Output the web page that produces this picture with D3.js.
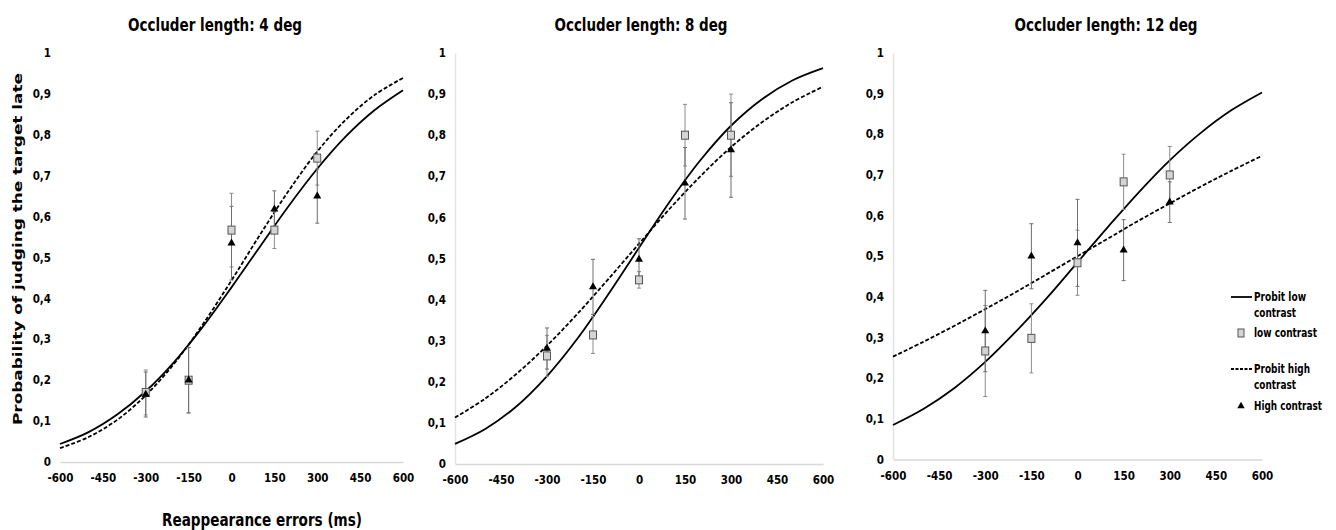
<!DOCTYPE html>
<html>
<head>
<meta charset="utf-8">
<script src="https://cdn.jsdelivr.net/npm/d3@7"></script>
<style>
  html, body { margin: 0; padding: 0; background: #fff; }
  svg { display: block; }
  .tick text { font-family: "DejaVu Sans Condensed", "DejaVu Sans", sans-serif; font-weight: bold; font-size: 11.5px; fill: #000; }
</style>
</head>
<body>
<svg id="chart" width="1336" height="530"></svg>
<script>
// ---------- data ----------
const xTicks = [-600, -450, -300, -150, 0, 150, 300, 450, 600];
const xTickLabels = ["-600", "-450", "-300", "-150", "0", "150", "300", "450", "600"];
const yTicks = [0, 0.1, 0.2, 0.3, 0.4, 0.5, 0.6, 0.7, 0.8, 0.9, 1];
const yTickLabels = ["0", "0,1", "0,2", "0,3", "0,4", "0,5", "0,6", "0,7", "0,8", "0,9", "1"];
const panelTitles = ["Occluder length: 4 deg", "Occluder length: 8 deg", "Occluder length: 12 deg"];
const curveX = [-600, -500, -400, -300, -200, -100, 0, 100, 200, 300, 400, 500, 600];
const pointX = [-300, -150, 0, 150, 300];

// 4 deg
const fitLow4  = [0.044, 0.073, 0.116, 0.173, 0.245, 0.331, 0.427, 0.527, 0.626, 0.717, 0.796, 0.860, 0.909];
const fitHigh4 = [0.034, 0.061, 0.103, 0.163, 0.241, 0.337, 0.444, 0.556, 0.663, 0.759, 0.837, 0.897, 0.939];
const low4     = [0.170, 0.200, 0.567, 0.567, 0.743];
const low4Err  = [0.055, 0.080, 0.090, 0.045, 0.066];
const high4    = [0.165, 0.200, 0.535, 0.618, 0.650];
const high4Err = [0.055, 0.080, 0.090, 0.045, 0.066];

// 8 deg
const fitLow8  = [0.049, 0.086, 0.140, 0.214, 0.306, 0.413, 0.526, 0.638, 0.739, 0.823, 0.887, 0.933, 0.963];
const fitHigh8 = [0.113, 0.160, 0.219, 0.288, 0.366, 0.450, 0.536, 0.621, 0.700, 0.771, 0.831, 0.880, 0.918];
const low8     = [0.263, 0.314, 0.448, 0.800, 0.800];
const low8Err  = [0.050, 0.045, 0.020, 0.075, 0.100];
const high8    = [0.281, 0.431, 0.498, 0.683, 0.764];
const high8Err = [0.050, 0.067, 0.050, 0.087, 0.115];

// 12 deg
const fitLow12  = [0.085, 0.125, 0.176, 0.240, 0.315, 0.397, 0.485, 0.573, 0.658, 0.736, 0.803, 0.859, 0.903];
const fitHigh12 = [0.253, 0.290, 0.329, 0.370, 0.412, 0.456, 0.500, 0.544, 0.588, 0.630, 0.671, 0.710, 0.747];
const low12     = [0.267, 0.298, 0.484, 0.683, 0.700];
const low12Err  = [0.112, 0.085, 0.080, 0.068, 0.070];
const high12    = [0.316, 0.500, 0.533, 0.515, 0.633];
const high12Err = [0.100, 0.080, 0.107, 0.075, 0.050];

const legendLabels = [["Probit low", "contrast"], ["low contrast"], ["Probit high", "contrast"], ["High contrast"]];
const legendWidths = [[52, 42], [63], [56, 42], [68]];

// ---------- layout ----------
const panels = [
  { x0: 60,  x1: 403,  y0: 462,   y1: 53, yLine: false, titleX: 215,  titleW: 174,
    fitLow: fitLow4, fitHigh: fitHigh4, low: low4, lowErr: low4Err, high: high4, highErr: high4Err },
  { x0: 455, x1: 823,  y0: 464,   y1: 53, yLine: true,  titleX: 641,  titleW: 173,
    fitLow: fitLow8, fitHigh: fitHigh8, low: low8, lowErr: low8Err, high: high8, highErr: high8Err },
  { x0: 893, x1: 1262, y0: 459.5, y1: 53, yLine: true,  titleX: 1106, titleW: 183,
    fitLow: fitLow12, fitHigh: fitHigh12, low: low12, lowErr: low12Err, high: high12, highErr: high12Err }
];

const svg = d3.select("#chart");
const condensed = '"DejaVu Sans Condensed", "DejaVu Sans", sans-serif';

panels.forEach((p, i) => {
  const x = d3.scaleLinear().domain([-600, 600]).range([p.x0, p.x1]);
  const y = d3.scaleLinear().domain([0, 1]).range([p.y0, p.y1]);
  const g = svg.append("g");

  // title
  g.append("text")
    .attr("x", p.titleX).attr("y", 31)
    .attr("text-anchor", "middle")
    .attr("textLength", p.titleW).attr("lengthAdjust", "spacingAndGlyphs")
    .style("font-family", condensed).style("font-weight", "bold").style("font-size", "17px")
    .text(panelTitles[i]);

  // x axis
  const xAxis = g.append("g").attr("transform", `translate(0,${p.y0})`)
    .call(d3.axisBottom(x).tickValues(xTicks).tickSize(0).tickPadding(12)
      .tickFormat((d, k) => xTickLabels[k]));
  xAxis.select(".domain").attr("stroke", "#d9d9d9").attr("stroke-width", 1.5);

  // y axis
  const yAxis = g.append("g").attr("transform", `translate(${p.x0},0)`)
    .call(d3.axisLeft(y).tickValues(yTicks).tickSize(0).tickPadding(9)
      .tickFormat((d, k) => yTickLabels[k]));
  if (p.yLine) yAxis.select(".domain").attr("stroke", "#e3e3e3").attr("stroke-width", 1.5);
  else yAxis.select(".domain").remove();

  // fitted curves
  const line = d3.line().x((d, k) => x(curveX[k])).y(d => y(d)).curve(d3.curveCatmullRom);
  g.append("path").datum(p.fitHigh).attr("d", line)
    .attr("fill", "none").attr("stroke", "#000").attr("stroke-width", 1.8).attr("stroke-dasharray", "4,2");
  g.append("path").datum(p.fitLow).attr("d", line)
    .attr("fill", "none").attr("stroke", "#000").attr("stroke-width", 1.8);

  // error bars
  const drawErr = (vals, errs, color) => {
    const eg = g.append("g").attr("stroke", color).attr("stroke-width", 1);
    vals.forEach((v, k) => {
      const cx = x(pointX[k]);
      eg.append("line").attr("x1", cx).attr("x2", cx).attr("y1", y(v - errs[k])).attr("y2", y(v + errs[k]));
      eg.append("line").attr("x1", cx - 2).attr("x2", cx + 2).attr("y1", y(v - errs[k])).attr("y2", y(v - errs[k]));
      eg.append("line").attr("x1", cx - 2).attr("x2", cx + 2).attr("y1", y(v + errs[k])).attr("y2", y(v + errs[k]));
    });
  };
  drawErr(p.low, p.lowErr, "#8c8c8c");
  drawErr(p.high, p.highErr, "#6e6e6e");

  // squares (low contrast)
  g.append("g").selectAll("rect").data(p.low).join("rect")
    .attr("x", (d, k) => x(pointX[k]) - 3.5).attr("y", d => y(d) - 4)
    .attr("width", 7).attr("height", 8)
    .attr("fill", "#d4d4d4").attr("stroke", "#555").attr("stroke-width", 1);

  // triangles (high contrast)
  const tri = d3.symbol().type(d3.symbolTriangle).size(28);
  g.append("g").selectAll("path").data(p.high).join("path")
    .attr("transform", (d, k) => `translate(${x(pointX[k])},${y(d)})`)
    .attr("d", tri).attr("fill", "#000");
});

// y-axis title
svg.append("text")
  .attr("transform", "translate(22,249) rotate(-90)")
  .attr("text-anchor", "middle")
  .attr("textLength", 352).attr("lengthAdjust", "spacingAndGlyphs")
  .style("font-family", '"DejaVu Sans", sans-serif').style("font-weight", "bold").style("font-size", "13px")
  .text("Probability of judging the target late");

// x-axis title
svg.append("text")
  .attr("x", 262).attr("y", 526)
  .attr("text-anchor", "middle")
  .attr("textLength", 200).attr("lengthAdjust", "spacingAndGlyphs")
  .style("font-family", condensed).style("font-weight", "bold").style("font-size", "17px")
  .text("Reappearance errors (ms)");

// legend
const lg = svg.append("g").style("font-family", condensed).style("font-weight", "bold").style("font-size", "12px");
const lgText = (idx, tx, by) => {
  legendLabels[idx].forEach((t, k) => lg.append("text").attr("x", tx).attr("y", by + k * 15.5)
    .attr("textLength", legendWidths[idx][k]).attr("lengthAdjust", "spacingAndGlyphs").text(t));
};
lg.append("line").attr("x1", 1231).attr("x2", 1252).attr("y1", 297).attr("y2", 297).attr("stroke", "#000").attr("stroke-width", 1.8);
lgText(0, 1254, 301);
lg.append("rect").attr("x", 1238).attr("y", 329).attr("width", 6).attr("height", 8)
  .attr("fill", "#d4d4d4").attr("stroke", "#555");
lgText(1, 1254, 337);
lg.append("line").attr("x1", 1231).attr("x2", 1252).attr("y1", 369).attr("y2", 369).attr("stroke", "#000").attr("stroke-width", 1.8).attr("stroke-dasharray", "3,1.5");
lgText(2, 1254, 373);
lg.append("path").attr("transform", "translate(1241,406)").attr("d", d3.symbol().type(d3.symbolTriangle).size(24)).attr("fill", "#000");
lgText(3, 1254, 410);
</script>
</body>
</html>
